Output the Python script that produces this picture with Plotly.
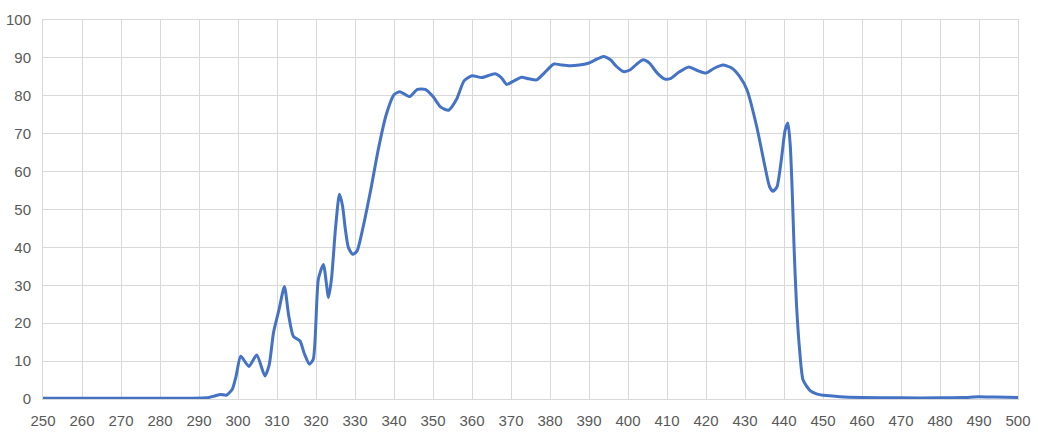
import plotly.graph_objects as go

wavelength = [250, 260, 270, 280, 288, 292, 294, 295.5, 297, 298.5, 299.5, 300.7, 302.8, 304.8,
              306.9, 308, 309.1, 310.5, 311.9, 313, 314.2, 315.9, 317, 318.3, 319.3, 320.6,
              321.9, 323.2, 324, 325, 326, 326.8, 327.5, 328.3, 329.4, 330.5, 332, 334, 336,
              338, 340, 341.5, 344, 346, 348, 350, 352, 354, 356, 358, 360, 362.5, 365.9,
              367.5, 368.9, 370.5, 372.7, 374.5, 376.6, 378.5, 381, 383, 385.1, 387.5, 389.8,
              391.5, 393.7, 395.5, 397, 398.8, 400.5, 402.5, 403.9, 405.5, 407.5, 409.5, 411,
              413, 415.6, 417.5, 420, 422, 424.4, 426.5, 428.7, 430.5, 433, 435.1, 436.3,
              437.2, 438.2, 439.3, 440.3, 441, 441.6, 442.1, 442.6, 443.2, 444, 444.9, 446.7,
              448.5, 450.9, 454.4, 460, 470, 480, 486, 490, 494, 500]
transmission = [0.2, 0.2, 0.2, 0.2, 0.2, 0.3, 0.8, 1.2, 1.0, 2.5, 6, 11.3, 8.6, 11.6,
                6.1, 9, 17.5, 23.5, 29.7, 22, 16.5, 15.3, 12, 9.2, 10.5, 31.6,
                35.5, 26.8, 32, 45, 54, 51, 45, 40, 38.2, 39, 45, 55, 66,
                75, 80.3, 81.1, 79.8, 81.7, 81.7, 79.8, 77, 76.2, 79, 84, 85.3, 84.8, 85.8,
                84.8, 83, 83.8, 84.9, 84.5, 84.2, 86, 88.4, 88.1, 87.9, 88.1, 88.6,
                89.4, 90.4, 89.5, 87.8, 86.4, 86.8, 88.6, 89.5, 88.6, 86, 84.4, 84.6,
                86.2, 87.6, 86.8, 86, 87.2, 88.1, 87.4, 85, 81.6, 71.9, 61.4, 56,
                54.8, 56, 63, 71, 72.8, 67, 55, 39.5, 25, 13, 5, 2.2,
                1.3, 0.9, 0.6, 0.4, 0.3, 0.3, 0.4, 0.6, 0.5, 0.4]

x_ticks = list(range(250, 501, 10))
y_ticks = list(range(0, 101, 10))

fig = go.Figure()
fig.add_trace(go.Scatter(
    x=wavelength, y=transmission, mode="lines",
    line=dict(color="#4472C4", width=3, shape="spline", smoothing=0.6),
    hoverinfo="skip", showlegend=False,
))

grid = "#d9d9d9"
fig.update_layout(
    width=1038, height=439,
    margin=dict(l=43, r=20, t=20, b=40),
    paper_bgcolor="white", plot_bgcolor="white",
    font=dict(family="Liberation Sans", size=15, color="#595959"),
    xaxis=dict(range=[250, 500], tickvals=x_ticks, ticktext=[str(v) for v in x_ticks],
               showgrid=True, gridcolor=grid, gridwidth=1, zeroline=False,
               showline=True, linecolor=grid, linewidth=1, mirror=True,
               ticks="", ticklabelstandoff=8, fixedrange=True, automargin=False),
    yaxis=dict(range=[0, 100], tickvals=y_ticks, ticktext=[str(v) for v in y_ticks],
               showgrid=True, gridcolor=grid, gridwidth=1, zeroline=False,
               showline=True, linecolor=grid, linewidth=1, mirror=True,
               ticks="", ticklabelstandoff=8, fixedrange=True, automargin=False),
)

fig.write_html(
    "out.html",
    config={"displayModeBar": False},
    post_script="document.body.style.margin='0';document.body.style.overflow='hidden';",
)
